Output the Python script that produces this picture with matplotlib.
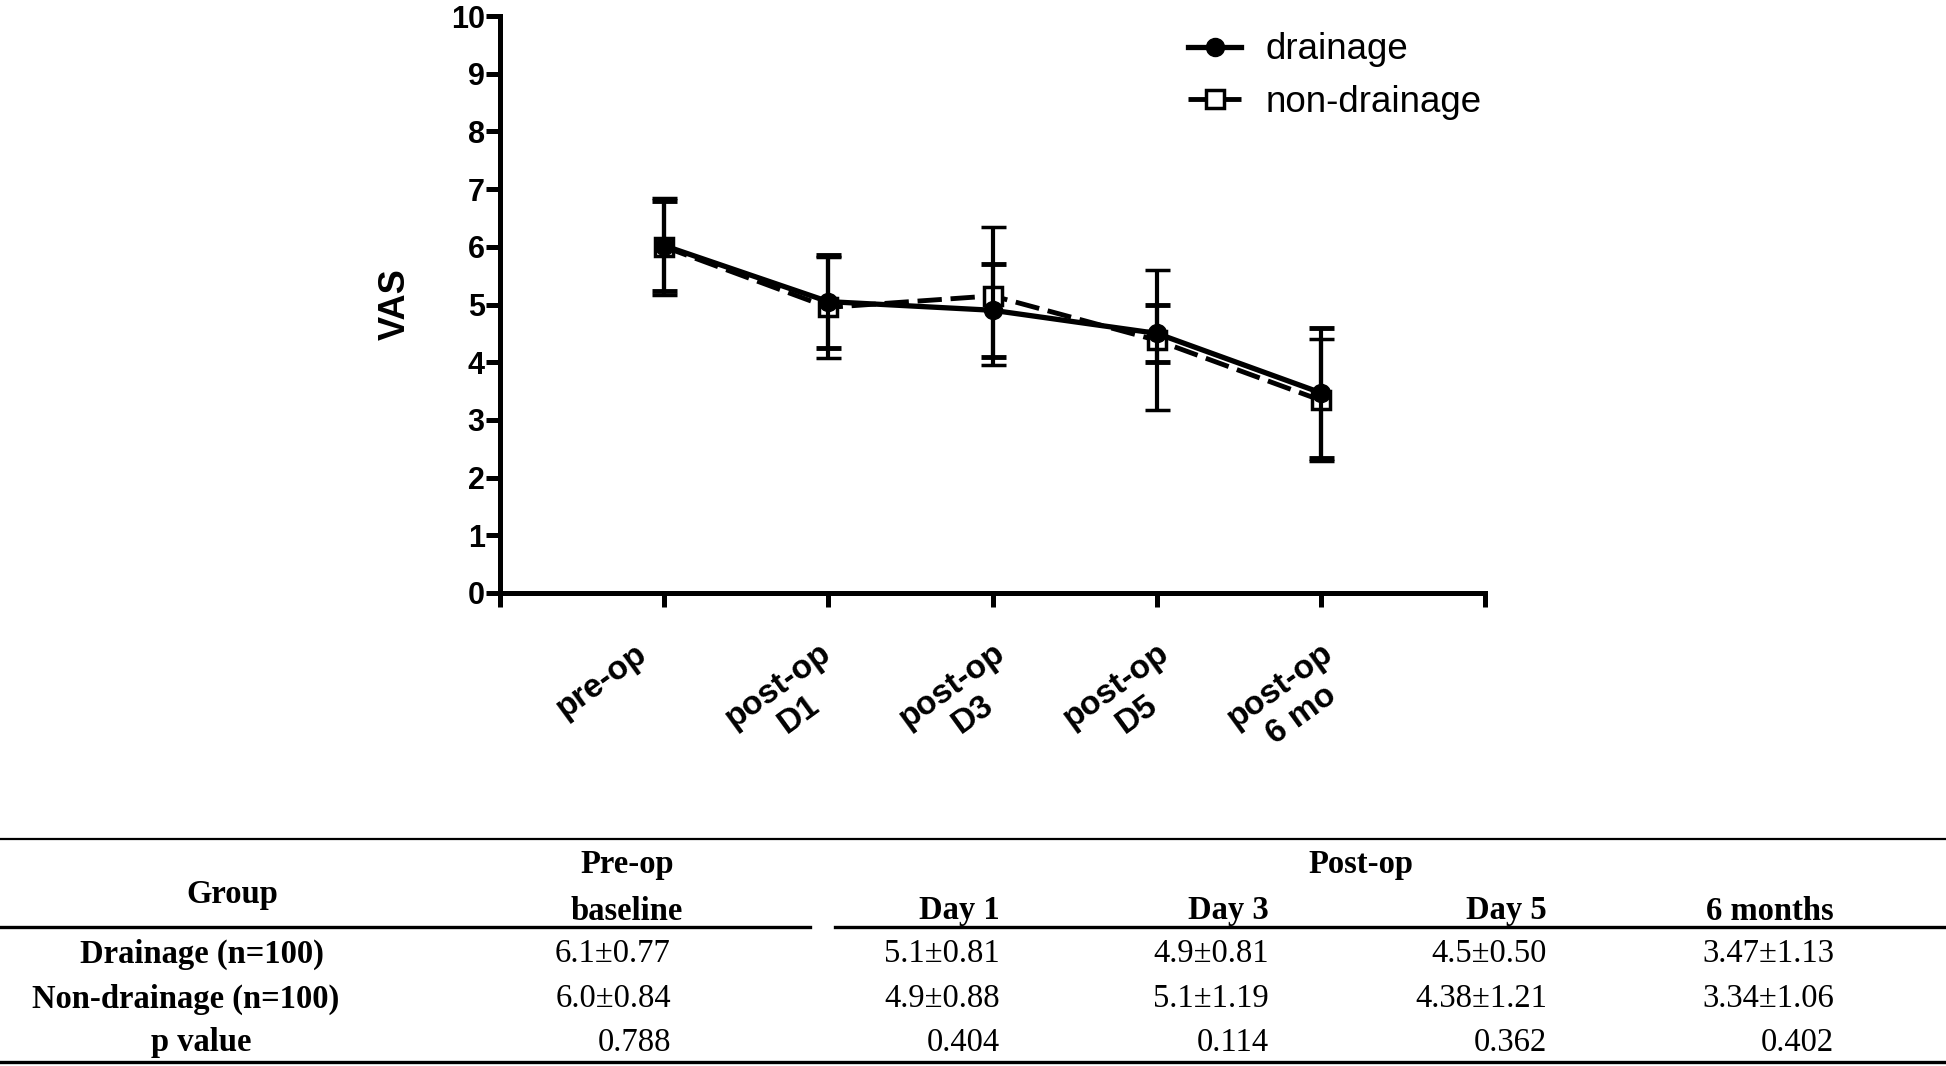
import matplotlib
matplotlib.use("Agg")
import matplotlib.pyplot as plt
from matplotlib.lines import Line2D
from matplotlib.transforms import ScaledTranslation

# data
timepoints = ['pre-op', 'post-op\nD1', 'post-op\nD3', 'post-op\nD5', 'post-op\n6 mo']
drain_mean = [6.02, 5.05, 4.90, 4.50, 3.47]
drain_sd = [0.78, 0.81, 0.81, 0.50, 1.13]
nondrain_mean = [6.00, 4.95, 5.15, 4.38, 3.34]
nondrain_sd = [0.84, 0.88, 1.19, 1.21, 1.06]

# table below the chart
tbl_cols = ['Day 1', 'Day 3', 'Day 5', '6 months']
tbl_rows = ['Drainage (n=100)', 'Non-drainage (n=100)', 'p value']
tbl_drain = ['6.1\u00b10.77', '5.1\u00b10.81', '4.9\u00b10.81', '4.5\u00b10.50', '3.47\u00b11.13']
tbl_nondrain = ['6.0\u00b10.84', '4.9\u00b10.88', '5.1\u00b11.19', '4.38\u00b11.21', '3.34\u00b11.06']
tbl_p = ['0.788', '0.404', '0.114', '0.362', '0.402']

W, H = 1946, 1066
fig = plt.figure(figsize=(W / 100, H / 100), dpi=100)
plt.rcParams['font.family'] = ['Liberation Sans', 'DejaVu Sans']

ax = fig.add_axes([500 / W, 1 - 593 / H, 985 / W, 577 / H])
x = list(range(len(timepoints)))

nd = ax.errorbar(x, nondrain_mean, yerr=nondrain_sd, fmt='s', ls=(0, (5, 1.8)),
                 color='k', lw=3.5, ms=13, mfc='white', mec='k', mew=2.5,
                 capsize=9, capthick=3.5, elinewidth=3, zorder=2)
dr = ax.errorbar(x, drain_mean, yerr=drain_sd, fmt='-o', color='k', lw=3.8, ms=13,
                 capsize=9, capthick=3.5, elinewidth=3, zorder=3)

ax.set_xlim(-1, 5)
ax.set_ylim(0, 10)
ax.set_yticks(range(0, 11))
ax.set_xticks(range(-1, 6))
ax.set_xticklabels([''] + timepoints + [''])
for s in ['top', 'right']:
    ax.spines[s].set_visible(False)
for s in ['left', 'bottom']:
    ax.spines[s].set_linewidth(3.6)
ax.tick_params(axis='both', width=3.6, length=10, direction='out')
ax.tick_params(axis='y', labelsize=22, pad=1)
ax.tick_params(axis='x', pad=22)
for t in ax.get_yticklabels():
    t.set_fontweight('bold')
# the first labels sit a little further left in the original
shift_px = [0, -30, -10, 0, 0, 0, 0]
for t, dx in zip(ax.get_xticklabels(), shift_px):
    t.set_fontsize(24)
    t.set_fontweight('bold')
    t.set_rotation(36)
    t.set_ha('right')
    t.set_va('top')
    t.set_rotation_mode('anchor')
    t.set_multialignment('center')
    t.set_transform(t.get_transform() + ScaledTranslation(dx / 100, 0, fig.dpi_scale_trans))

ax.set_ylabel('VAS', fontsize=26, fontweight='bold')
ax.yaxis.set_label_coords(-0.089, 0.5)

fig.legend([dr[0], nd[0]], ['drainage', 'non-drainage'], loc='upper left',
           bbox_to_anchor=(1170 / W, 1 - 14 / H), frameon=False, fontsize=26.5,
           handlelength=1.44, handletextpad=0.65, borderpad=0, labelspacing=0.47)

# ---- table ----
def px(xp, yp):
    return xp / W, 1 - yp / H

def hline(x0, x1, y, lw):
    a, b = px(x0, y)
    c, _ = px(x1, y)
    fig.add_artist(Line2D([a, c], [b, b], color='k', lw=lw, transform=fig.transFigure))

hline(0, W, 839, 1.6)
hline(0, 810, 927, 2.4)
hline(835, W, 927, 2.4)
hline(0, W, 1062, 2.4)

serif = ['Liberation Serif', 'DejaVu Serif']
fs = 23.5

def txt(xp, yp, s, ha='center', bold=False):
    fig.text(*px(xp, yp), s, ha=ha, va='center', fontsize=fs, family=serif,
             fontweight='bold' if bold else 'normal')

txt(232, 894, 'Group', bold=True)
txt(627, 865, 'Pre-op', bold=True)
txt(627, 911, 'baseline', bold=True)
txt(1361, 865, 'Post-op', bold=True)
col_right = [671, 1000, 1269, 1547, 1834]
for c, xr in zip(tbl_cols, col_right[1:]):
    txt(xr, 911, c, ha='right', bold=True)

row_y = [954, 999, 1043]
row_cx = [202, 186, 201]
for lab, yy, cx in zip(tbl_rows, row_y, row_cx):
    txt(cx, yy, lab, bold=True)
for vals, yy in zip([tbl_drain, tbl_nondrain, tbl_p], row_y):
    for v, xr in zip(vals, col_right):
        txt(xr, yy, v, ha='right')

fig.savefig('out.png', dpi=100)
